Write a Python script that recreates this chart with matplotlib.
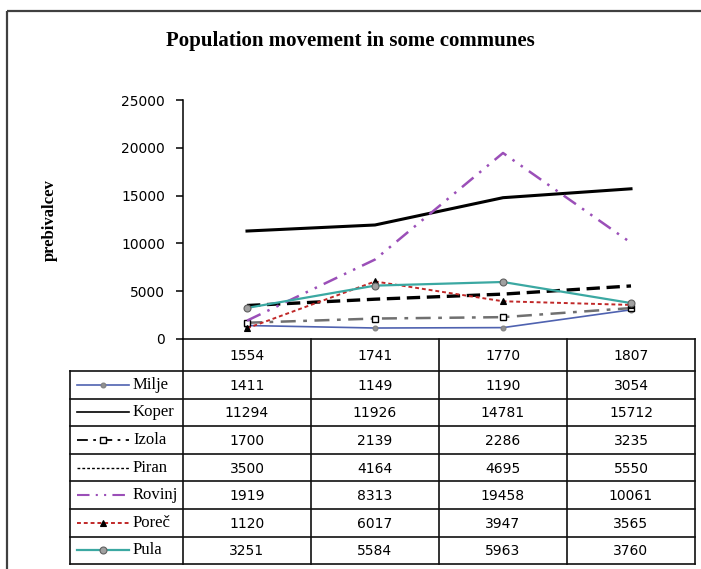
import matplotlib
matplotlib.use("Agg")
import matplotlib.pyplot as plt
from matplotlib.patches import Rectangle

# ---- data ----
years = ["1554", "1741", "1770", "1807"]
names = ["Milje", "Koper", "Izola", "Piran", "Rovinj", "Poreč", "Pula"]
milje = [1411, 1149, 1190, 3054]
koper = [11294, 11926, 14781, 15712]
izola = [1700, 2139, 2286, 3235]
piran = [3500, 4164, 4695, 5550]
rovinj = [1919, 8313, 19458, 10061]
porec = [1120, 6017, 3947, 3565]
pula = [3251, 5584, 5963, 3760]
yticks = [0, 5000, 10000, 15000, 20000, 25000]
title = "Population movement in some communes"
ylabel = "prebivalcev"

series = [milje, koper, izola, piran, rovinj, porec, pula]

styles = [
    dict(color="#4F62B0", lw=1.2, ls="-", marker="o", ms=3.5, mfc="#909090", mec="#808080"),
    dict(color="black", lw=2.2, ls="-"),
    dict(color="#707070", lw=1.8, ls=(0, (6, 3, 1.5, 3)), marker="s", ms=4, mfc="white", mec="black", mew=1),
    dict(color="black", lw=2.4, ls=(0, (4, 2))),
    dict(color="#9B4FB8", lw=1.8, ls=(0, (6, 3, 1, 3, 1, 3))),
    dict(color="#C02828", lw=1.4, ls=(0, (2, 1.5)), marker="^", ms=4.5, mfc="black", mec="black"),
    dict(color="#3BA8A2", lw=1.6, ls="-", marker="o", ms=5, mfc="#A0A0A0", mec="#606060"),
]
key_over = [
    {}, dict(lw=1.2), dict(color="black", lw=1.3), dict(lw=1.0, ls=(0, (2, 1.5))),
    dict(lw=1.5), {}, {},
]

W, H = 701, 569
fig = plt.figure(figsize=(W / 100, H / 100), dpi=100)

# overlay axes in pixel coords
ov = fig.add_axes([0, 0, 1, 1], zorder=0)
ov.set_xlim(0, W)
ov.set_ylim(H, 0)
ov.axis("off")

# plot area geometry (pixels)
L, R, T, B = 183, 695, 100, 339
ax = fig.add_axes([L / W, 1 - B / H, (R - L) / W, (B - T) / H], zorder=1)
ax.patch.set_alpha(0)
xs = [i + 0.5 for i in range(len(years))]
for vals, st in zip(series, styles):
    ax.plot(xs, vals, color=st["color"], lw=st["lw"], ls=st["ls"],
            marker=st.get("marker", None), ms=st.get("ms", 0),
            mfc=st.get("mfc", None), mec=st.get("mec", None), mew=st.get("mew", 0.8),
            solid_joinstyle="round", dash_capstyle="butt")
ax.set_xlim(0, len(years))
ax.set_ylim(yticks[0], yticks[-1])
ax.set_yticks(yticks)
ax.set_yticklabels([str(v) for v in yticks], fontsize=10, family="DejaVu Sans")
ax.set_xticks([])
for s in ["top", "right", "bottom"]:
    ax.spines[s].set_visible(False)
ax.spines["left"].set_linewidth(1.1)
ax.tick_params(axis="y", direction="out", length=5, width=1.1, pad=8)

# title and y label
ov.text(350, 41, title, ha="center", va="center", fontsize=15,
        family="Liberation Serif", fontweight="bold")
ov.text(50, 220, ylabel, ha="center", va="center", rotation=90, fontsize=12,
        family="Liberation Serif", fontweight="bold")

# outer frame
ov.add_patch(Rectangle((7, 11), 760, 620, fill=False, lw=1.6, ec="#404040", clip_on=False))

# ---- data table ----
ncol = len(years)
colw = (R - L) / ncol
colx = [L + i * colw for i in range(ncol + 1)]
lab_left = 70
head_top, head_bot = 339, 371
row_h = 27.6
rows_y = [head_bot + i * row_h for i in range(len(names) + 1)]
lc = "#111111"
lw_t = 1.2

# horizontal lines
ov.plot([L, R], [head_top, head_top], color=lc, lw=lw_t)
for y in rows_y:
    ov.plot([lab_left, R], [y, y], color=lc, lw=lw_t)
# vertical lines
for x in colx:
    ov.plot([x, x], [head_top, rows_y[-1]], color=lc, lw=lw_t)
ov.plot([lab_left, lab_left], [head_bot, rows_y[-1]], color=lc, lw=lw_t)

# header
for i, yr in enumerate(years):
    ov.text(colx[i] + colw / 2, (head_top + head_bot) / 2 + 1, yr, ha="center", va="center",
            fontsize=10, family="DejaVu Sans")

# rows
for r, (nm, vals, st, ko) in enumerate(zip(names, series, styles, key_over)):
    yc = rows_y[r] + row_h / 2
    for i, v in enumerate(vals):
        ov.text(colx[i] + colw / 2, yc + 1, str(v), ha="center", va="center",
                fontsize=10, family="DejaVu Sans")
    ks = dict(st)
    ks.update(ko)
    ov.plot([77, 129], [yc, yc], color=ks["color"], lw=ks["lw"], ls=ks["ls"],
            dash_capstyle="butt")
    if ks.get("marker"):
        ov.plot([103], [yc], marker=ks["marker"], ms=ks["ms"], mfc=ks.get("mfc"),
                mec=ks.get("mec"), mew=ks.get("mew", 0.8), ls="none")
    ov.text(133, yc, nm, ha="left", va="center", fontsize=12, family="Liberation Serif")

fig.savefig("out.png", dpi=100)
